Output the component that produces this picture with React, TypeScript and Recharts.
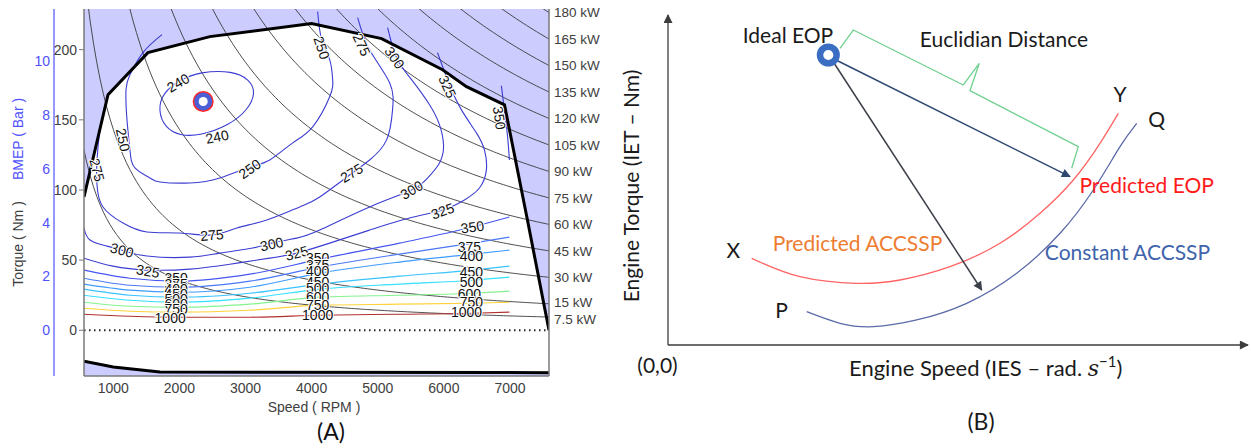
import React from 'react';
import { ComposedChart, Line, Area, Scatter, XAxis, YAxis, Label } from 'recharts';

type Pair = [number, number];

// ---------------- (A) engine BSFC map ----------------
const SPEED_MIN = 557;
const SPEED_MAX = 7590;
const TORQUE_MIN = -32.6;
const TORQUE_MAX = 229;
const NM_PER_BAR = 19.16;
const KW_RPM_TO_NM = 9549.3;

const speedTicks = [1000, 2000, 3000, 4000, 5000, 6000, 7000];
const torqueTicks = [0, 50, 100, 150, 200];
const bmepTicks = [0, 2, 4, 6, 8, 10];
const powerLevels = [7.5, 15, 30, 45, 60, 75, 90, 105, 120, 135, 150, 165, 180];

// full-load torque curve
const wotSpeed = [557, 920, 1524, 2461, 3999, 5058, 5980, 6342, 6917, 7264, 7590];
const wotTorque = [95, 167.9, 197.9, 209.3, 218.6, 207.9, 185.7, 173.6, 160.7, 78.6, 0];

// motoring (closed throttle) torque
const motoringSpeed = [557, 1000, 1705, 7590];
const motoringTorque = [-22.1, -26.2, -29.8, -30.2];

// BSFC iso-lines (g/kWh), [speed rpm, torque Nm]
const bsfc240: Pair[] = [
  [1675, 157.1], [1751, 169.3], [2008, 178.6], [2310, 184.3], [2808, 185], [3065, 178.6],
  [3156, 169.3], [3035, 157.1], [2763, 146.4], [2310, 138.6], [2008, 138.6], [1781, 144.3],
];
const bsfc250: Pair[] = [
  [1736, 210.7], [1449, 197.9], [1252, 182.1], [1192, 171.4], [1207, 150], [1252, 128.6],
  [1328, 115.7], [1554, 108.6], [1705, 105.7], [2159, 105], [2612, 108.6], [3065, 116.4],
  [3367, 121.4], [3715, 133.6], [4016, 145], [4273, 166.4], [4318, 178.6], [4273, 192.9],
  [4152, 207.1], [4091, 227.1],
];
const bsfc275: Pair[] = [
  [875, 160.7], [799, 142.9], [754, 121.4], [754, 103.6], [844, 87.9], [1147, 76.4],
  [1509, 70], [2008, 69.3], [2491, 67.9], [2869, 72.9], [3322, 78.6], [3820, 87.9],
  [4122, 95], [4575, 110.7], [4877, 121.4], [5134, 135.7], [5224, 157.1], [5179, 176.4],
  [4877, 200], [4696, 222.9],
];
const bsfc300: Pair[] = [
  [557, 72.9], [648, 64.3], [905, 60], [1131, 57.1], [1509, 52.9], [2159, 52.1],
  [2612, 55], [3110, 58.6], [3397, 62.1], [3775, 65.7], [4122, 71.4], [4877, 87.9],
  [5511, 100], [5754, 108.6], [5934, 119.3], [5995, 132.1], [5934, 146.4], [5783, 160.7],
  [5511, 178.6], [5285, 194.3], [5149, 215.7],
];
const bsfc325: Pair[] = [
  [557, 51.4], [995, 45.7], [1524, 42.9], [2159, 43.6], [2763, 47.1], [3367, 51.4],
  [3775, 55], [4273, 62.1], [4877, 71.4], [5481, 80], [5980, 85.7], [6311, 92.9],
  [6538, 101.4], [6643, 114.3], [6613, 128.6], [6492, 140.7], [6266, 157.1], [6085, 175],
  [5904, 197.9],
];
const bsfc350High: Pair[] = [[6870, 174.3], [6915, 157.1], [6961, 139.3], [6991, 121.4]];

// part-load iso-lines share one speed grid
const lowLoadSpeed = [557, 1252, 2008, 3065, 4122, 5330, 6432, 6991];
const bsfc350 = [42.9, 37.1, 35, 40, 50.7, 62.1, 73.6, 80.7];
const bsfc375 = [37.1, 32.1, 30.7, 35, 45, 54.3, 62.1, 66.4];
const bsfc400 = [32.9, 28.6, 27.1, 30.7, 40.7, 48.6, 54.3, 57.1];
const bsfc450 = [29.3, 25, 23.6, 26.4, 32.9, 38.6, 42.9, 45.7];
const bsfc500 = [25, 21.4, 20, 22.9, 29.3, 32.9, 35.7, 37.9];
const bsfc600 = [20, 17.1, 16.4, 18.6, 23.6, 25, 26.4, 27.9];
const bsfc750 = [15.7, 13.6, 12.9, 14.3, 17.9, 18.6, 19.3, 20];
const bsfc1000 = [11.4, 10, 9.3, 9.3, 10.7, 11.4, 12.1, 12.9];

// inline iso-line labels: [speed, torque, text, rotation]
const contourLabels: [number, number, string, number][] = [
  [1981, 176.4, '240', -30], [2570, 137.9, '240', -12],
  [1147, 135.7, '250', 78], [3065, 115, '250', -35], [4152, 201.4, '250', 72],
  [754, 114.3, '275', 75], [4756, 203.6, '275', 65], [2491, 67.9, '275', -5], [4605, 112.1, '275', -30],
  [5254, 194.3, '300', 55], [1131, 57.1, '300', 15], [3397, 61.4, '300', -12], [5511, 100, '300', -30],
  [6055, 173.6, '325', 65], [1524, 42.1, '325', 10], [3775, 55, '325', -15], [5980, 85, '325', -20],
  [6840, 151.4, '350', 82], [6432, 73.6, '350', -8],
  [1950, 37.1, '350', 0], [1950, 32.9, '375', 0], [1950, 29.3, '400', 0], [1950, 25.7, '450', 0],
  [1950, 22.1, '500', 0], [1950, 18.6, '600', 0], [1950, 15, '750', 0], [1860, 8.6, '1000', 0],
  [4091, 51.4, '350', 0], [4091, 46.4, '375', 0], [4091, 42.1, '400', 0], [4091, 34.3, '450', 0],
  [4091, 30, '500', 0], [4091, 23.6, '600', 0], [4091, 17.9, '750', 0], [4091, 10.7, '1000', 0],
  [6387, 59.3, '375', 0], [6417, 52.9, '400', 0], [6417, 41.4, '450', 0], [6417, 34.3, '500', 0],
  [6387, 25.7, '600', 0], [6417, 20, '750', 0], [6342, 12.9, '1000', 0],
];

const idealSpeed = 2360;
const idealTorque = 163.1;

// ---------------- (B) operating-point sketch (normalised 0..100) ----------------
const predictedCurve: Pair[] = [
  [14.43, 26.27], [22.76, 20.7], [32.53, 18.7], [40, 19.7], [48.62, 23.73], [57.24, 30.82],
  [64.14, 39.91], [69.88, 50], [74.48, 61.12], [77.64, 70.21],
];
const constantCurve: Pair[] = [
  [23.91, 10.09], [29.66, 6.58], [35.4, 5.55], [42.88, 7.58], [51.5, 12.64], [60.12, 21.73],
  [67.59, 33.85], [73.33, 46.97], [77.93, 60.09], [80.81, 67.18],
];
const distanceBrace: Pair[] = [
  [29.66, 89.9], [31.95, 95.45], [50.91, 78.79], [53.67, 85.36], [52.07, 77.06], [70.74, 60.09], [69.6, 53.55],
];
const speedAxisArrow: Pair[] = [[0, 0], [100, 0]];
const torqueAxisArrow: Pair[] = [[0, 0], [0, 100]];
const eopArrow: Pair[] = [[28.28, 86.97], [69.31, 51.0]];
const accsspArrow: Pair[] = [[28.28, 86.36], [54.09, 16.67]];
const idealEop: Pair = [27.64, 87.88];
const sketchLabels: [number, number, string, string][] = [
  [20.69, 91.52, 'Ideal EOP', '#1a1a1a'],
  [57.93, 90.39, 'Euclidian Distance', '#1a1a1a'],
  [77.93, 73.73, 'Y', '#1a1a1a'],
  [84.26, 66.15, 'Q', '#1a1a1a'],
  [82.53, 46.15, 'Predicted EOP', '#ff1a1a'],
  [11.26, 26.27, 'X', '#1a1a1a'],
  [32.67, 28.58, 'Predicted ACCSSP', '#ed7d31'],
  [19.6, 8.09, 'P', '#1a1a1a'],
  [79.22, 25.76, 'Constant ACCSSP', '#4064ac'],
];

// ---------------- helpers ----------------
const A_FONT = '"Liberation Sans", Arial, sans-serif';
const B_FONT = 'Lato, "Open Sans", sans-serif';
const FRAME = '#7a7a7a';

const mapRows = (pairs: Pair[]) => pairs.map(([n, t]) => ({ n, t }));
const gridRows = (speeds: number[], torques: number[]) => speeds.map((n, i) => ({ n, t: torques[i] }));
const xyRows = (pairs: Pair[]) => pairs.map(([x, y]) => ({ x, y }));

const hyperbolaSpeeds: number[] = [SPEED_MIN];
for (let n = 600; n < SPEED_MAX; n += 50) hyperbolaSpeeds.push(n);
hyperbolaSpeeds.push(SPEED_MAX);

// constant-power line for a labelled power level: T = 9549.3 * P / n
const powerRows = (kw: number) =>
  hyperbolaSpeeds.map((n) => ({ n, t: (KW_RPM_TO_NM * kw) / n })).filter((d) => d.t < 400);

const lowLoadSets: [number[], string][] = [
  [bsfc350, '#4656f2'], [bsfc375, '#4a78f6'], [bsfc400, '#3f9bff'], [bsfc450, '#39c3ff'],
  [bsfc500, '#33e0ff'], [bsfc600, '#84f28f'], [bsfc750, '#ffd23a'], [bsfc1000, '#b2312f'],
];
const mainSets: [Pair[], string][] = [
  [bsfc240, 'basisClosed'], [bsfc250, 'natural'], [bsfc275, 'natural'], [bsfc300, 'natural'],
  [bsfc325, 'natural'], [bsfc350High, 'natural'],
];

const ContourLabel = (props: any) => {
  const { cx, cy, payload } = props;
  if (cx == null || cy == null) return null;
  return (
    <text
      x={cx}
      y={cy}
      transform={`rotate(${payload.angle} ${cx} ${cy})`}
      textAnchor="middle"
      dominantBaseline="central"
      fontSize={14}
      fontFamily={A_FONT}
      fill="#111"
      stroke="#fff"
      strokeWidth={2}
      paintOrder="stroke"
    >
      {payload.text}
    </text>
  );
};

// power-line labels on the right frame; the two lowest sit very close, so spread them a touch
const KwTick = (props: any) => {
  const { x, y, payload } = props;
  const kw = +((payload.value * SPEED_MAX) / KW_RPM_TO_NM).toFixed(1);
  const nudge = kw === 7.5 ? 2 : kw === 15 ? -2 : 0;
  return (
    <text x={x} y={y + nudge} dy="0.355em" textAnchor="start" fontSize={13.5} fill="#404040" fontFamily={A_FONT}>
      {`${kw} kW`}
    </text>
  );
};

const MapRing = (props: any) => {
  const { cx, cy } = props;
  return (
    <g>
      <circle cx={cx} cy={cy} r={10.5} fill="#ff2a2a" />
      <circle cx={cx} cy={cy} r={9} fill="#4b5fd6" />
      <circle cx={cx} cy={cy} r={4.5} fill="#fff" />
    </g>
  );
};

const SketchRing = (props: any) => {
  const { cx, cy } = props;
  return <circle cx={cx} cy={cy} r={8.3} fill="#fff" stroke="#3b6ec2" strokeWidth={6.5} />;
};

const SketchText = (props: any) => {
  const { cx, cy, payload } = props;
  return (
    <text x={cx} y={cy} textAnchor="middle" fontSize={21} fontFamily={B_FONT} fill={payload.color}>
      {payload.text}
    </text>
  );
};

const speedTitle = () => (
  <g>
    <text x={314} y={412} textAnchor="middle" fontSize={14} fill="#404040" fontFamily={A_FONT}>
      Speed ( RPM )
    </text>
    <text x={331} y={440} textAnchor="middle" fontSize={23} fill="#111" fontFamily={B_FONT}>
      (A)
    </text>
  </g>
);

const torqueTitle = () => (
  <text x={23} y={244} transform="rotate(-90 23 244)" textAnchor="middle" fontSize={14} fill="#404040" fontFamily={A_FONT}>
    Torque ( Nm )
  </text>
);

const bmepTitle = () => (
  <text x={23} y={139} transform="rotate(-90 23 139)" textAnchor="middle" fontSize={14} fill="#5050ff" fontFamily={A_FONT}>
    BMEP ( Bar )
  </text>
);

// sketch panel svg starts 600px from the page's left edge
const sketchXTitles = () => (
  <g fontFamily={B_FONT} fill="#1a1a1a">
    <text x={57.5} y={373} textAnchor="middle" fontSize={21}>(0,0)</text>
    <text x={249} y={376} fontSize={22}>
      Engine Speed (IES – rad.{' '}
      <tspan fontFamily='"DejaVu Serif", serif' fontStyle="italic">s</tspan>
      <tspan dy={-9} fontSize={15}>−1</tspan>
      <tspan dy={9}>)</tspan>
    </text>
    <text x={381} y={430} textAnchor="middle" fontSize={23}>(B)</text>
  </g>
);

const sketchYTitle = () => (
  <text x={39} y={186} transform="rotate(-90 39 186)" textAnchor="middle" fontSize={21} fontFamily={B_FONT} fill="#1a1a1a">
    Engine Torque (IET – Nm)
  </text>
);

function EngineMap() {
  const wotBand = wotSpeed.map((n, i) => ({ n, band: [wotTorque[i], TORQUE_MAX] }));
  const floorBand = motoringSpeed.map((n, i) => ({ n, band: [TORQUE_MIN, motoringTorque[i]] }));
  const labelRows = contourLabels.map(([n, t, text, angle]) => ({ n, t, text, angle }));
  const tickStyle = { fontSize: 14, fill: '#404040', fontFamily: A_FONT };
  const kwTicks = powerLevels.map((p) => (KW_RPM_TO_NM * p) / SPEED_MAX);

  return (
    <ComposedChart width={620} height={448} margin={{ top: 9, right: 0, bottom: 0, left: 0 }}>
      <XAxis
        xAxisId="x" dataKey="n" type="number" domain={[SPEED_MIN, SPEED_MAX]} allowDataOverflow
        ticks={speedTicks} interval={0} height={72}
        axisLine={{ stroke: FRAME, strokeWidth: 1.5 }} tickLine={false} tickSize={0} tickMargin={7} tick={tickStyle}
      >
        <Label content={speedTitle} />
      </XAxis>
      <XAxis
        xAxisId="top" orientation="top" mirror type="number" domain={[SPEED_MIN, SPEED_MAX]} allowDataOverflow
        ticks={speedTicks} interval={0} height={0} tick={false} tickSize={5}
        axisLine={{ stroke: FRAME, strokeWidth: 1.5 }} tickLine={{ stroke: FRAME }}
      />
      <XAxis
        xAxisId="bottomIn" orientation="bottom" mirror type="number" domain={[SPEED_MIN, SPEED_MAX]} allowDataOverflow
        ticks={speedTicks} interval={0} height={0} tick={false} tickSize={5}
        axisLine={false} tickLine={{ stroke: FRAME }}
      />
      {/* outer scale: BMEP */}
      <YAxis
        yAxisId="zbmep" type="number" domain={[TORQUE_MIN / NM_PER_BAR, TORQUE_MAX / NM_PER_BAR]} allowDataOverflow
        ticks={bmepTicks} interval={0} width={54}
        axisLine={{ stroke: '#5050ff', strokeWidth: 1.2 }} tickLine={false} tickSize={0} tickMargin={4}
        tick={{ fontSize: 14, fill: '#5050ff', fontFamily: A_FONT }}
      >
        <Label content={bmepTitle} />
      </YAxis>
      {/* inner scale: torque */}
      <YAxis
        yAxisId="a" dataKey="t" type="number" domain={[TORQUE_MIN, TORQUE_MAX]} allowDataOverflow
        ticks={torqueTicks} interval={0} width={30}
        axisLine={{ stroke: FRAME, strokeWidth: 1.5 }} tickLine={{ stroke: FRAME }} tickSize={5} tickMargin={2} tick={tickStyle}
      >
        <Label content={torqueTitle} />
      </YAxis>
      <YAxis
        yAxisId="kw" orientation="right" type="number" domain={[TORQUE_MIN, TORQUE_MAX]} allowDataOverflow
        ticks={kwTicks} interval={0} width={71}
        axisLine={{ stroke: FRAME, strokeWidth: 1.5 }} tickLine={false} tickSize={0} tickMargin={5}
        tick={KwTick}
      />
      <YAxis
        yAxisId="kwIn" orientation="right" mirror type="number" domain={[TORQUE_MIN, TORQUE_MAX]} allowDataOverflow
        ticks={kwTicks} interval={0} width={0} tick={false} tickSize={5} axisLine={false} tickLine={{ stroke: FRAME }}
      />

      <Area xAxisId="x" yAxisId="a" data={wotBand} dataKey="band" type="linear" stroke="none" fill="#ccccff" fillOpacity={1} isAnimationActive={false} />
      <Area xAxisId="x" yAxisId="a" data={floorBand} dataKey="band" type="linear" stroke="none" fill="#ccccff" fillOpacity={1} isAnimationActive={false} />

      {powerLevels.map((p) => (
        <Line key={`kw${p}`} xAxisId="x" yAxisId="a" data={powerRows(p)} dataKey="t" type="linear"
          stroke="#3a3a3a" strokeWidth={0.9} dot={false} activeDot={false} isAnimationActive={false} />
      ))}

      {lowLoadSets.map(([torques, color], i) => (
        <Line key={`low${i}`} xAxisId="x" yAxisId="a" data={gridRows(lowLoadSpeed, torques)} dataKey="t" type="monotone"
          stroke={color} strokeWidth={1.1} dot={false} activeDot={false} isAnimationActive={false} />
      ))}
      {mainSets.map(([pairs, curve], i) => (
        <Line key={`main${i}`} xAxisId="x" yAxisId="a" data={mapRows(pairs)} dataKey="t" type={curve as any}
          stroke="#3c3cd2" strokeWidth={1.1} dot={false} activeDot={false} isAnimationActive={false} />
      ))}

      <Line xAxisId="x" yAxisId="a" data={[{ n: SPEED_MIN, t: 0 }, { n: SPEED_MAX, t: 0 }]} dataKey="t" type="linear"
        stroke="#222" strokeWidth={2} strokeDasharray="1.5 3.5" dot={false} activeDot={false} isAnimationActive={false} />
      <Line xAxisId="x" yAxisId="a" data={gridRows(motoringSpeed, motoringTorque)} dataKey="t" type="linear"
        stroke="#000" strokeWidth={3} dot={false} activeDot={false} isAnimationActive={false} />
      <Line xAxisId="x" yAxisId="a" data={gridRows(wotSpeed, wotTorque)} dataKey="t" type="linear"
        stroke="#000" strokeWidth={3} dot={false} activeDot={false} isAnimationActive={false} />

      <Scatter xAxisId="x" yAxisId="a" data={labelRows} shape={ContourLabel} isAnimationActive={false} />
      <Scatter xAxisId="x" yAxisId="a" data={[{ n: idealSpeed, t: idealTorque }]} shape={MapRing} isAnimationActive={false} />
    </ComposedChart>
  );
}

function OperatingPointSketch() {
  const textRows = sketchLabels.map(([x, y, text, color]) => ({ x, y, text, color }));
  const lineProps = { xAxisId: 'x', yAxisId: 'y', dataKey: 'y', dot: false, activeDot: false, isAnimationActive: false } as const;
  return (
    <ComposedChart width={651} height={448} margin={{ top: 15, right: 3, bottom: 0, left: 0 }}>
      <XAxis xAxisId="x" dataKey="x" type="number" domain={[0, 100]} height={103} axisLine={false} tickLine={false} tick={false}>
        <Label content={sketchXTitles} />
      </XAxis>
      <YAxis yAxisId="y" dataKey="y" type="number" domain={[0, 100]} width={68} axisLine={false} tickLine={false} tick={false}>
        <Label content={sketchYTitle} />
      </YAxis>

      <Line {...lineProps} data={xyRows(distanceBrace)} type="linear" stroke="#6fd08f" strokeWidth={1.3} />
      <Line {...lineProps} data={xyRows(predictedCurve)} type="natural" stroke="#ff6464" strokeWidth={1.3} />
      <Line {...lineProps} data={xyRows(constantCurve)} type="natural" stroke="#5a6aa8" strokeWidth={1.3} />
      <Line {...lineProps} data={xyRows(speedAxisArrow)} type="linear" stroke="#3c3c3c" strokeWidth={1.3} markerEnd="url(#headAxis)" />
      <Line {...lineProps} data={xyRows(torqueAxisArrow)} type="linear" stroke="#3c3c3c" strokeWidth={1.3} markerEnd="url(#headAxis)" />

      <Scatter xAxisId="x" yAxisId="y" data={[{ x: idealEop[0], y: idealEop[1] }]} shape={SketchRing} isAnimationActive={false} />
      <Line {...lineProps} data={xyRows(eopArrow)} type="linear" stroke="#2c4770" strokeWidth={1.5} markerEnd="url(#headNavy)" />
      <Line {...lineProps} data={xyRows(accsspArrow)} type="linear" stroke="#3a3f48" strokeWidth={1.5} markerEnd="url(#headGray)" />
      <Scatter xAxisId="x" yAxisId="y" data={textRows} shape={SketchText} isAnimationActive={false} />
    </ComposedChart>
  );
}

export default function App() {
  return (
    <div style={{ position: 'absolute', left: 0, top: 0, width: 1251, height: 448, background: '#fff', overflow: 'hidden' }}>
      <svg width={0} height={0} style={{ position: 'absolute' }}>
        <defs>
          <marker id="headAxis" viewBox="0 0 10 10" refX="9" refY="5" markerWidth="11" markerHeight="9" markerUnits="userSpaceOnUse" orient="auto">
            <path d="M0,0 L10,5 L0,10 z" fill="#3c3c3c" />
          </marker>
          <marker id="headNavy" viewBox="0 0 10 10" refX="9" refY="5" markerWidth="11" markerHeight="9" markerUnits="userSpaceOnUse" orient="auto">
            <path d="M0,0 L10,5 L0,10 z" fill="#2c4770" />
          </marker>
          <marker id="headGray" viewBox="0 0 10 10" refX="9" refY="5" markerWidth="11" markerHeight="9" markerUnits="userSpaceOnUse" orient="auto">
            <path d="M0,0 L10,5 L0,10 z" fill="#3a3f48" />
          </marker>
        </defs>
      </svg>
      <div style={{ position: 'absolute', left: 0, top: 0 }}>
        <EngineMap />
      </div>
      <div style={{ position: 'absolute', left: 600, top: 0 }}>
        <OperatingPointSketch />
      </div>
    </div>
  );
}
